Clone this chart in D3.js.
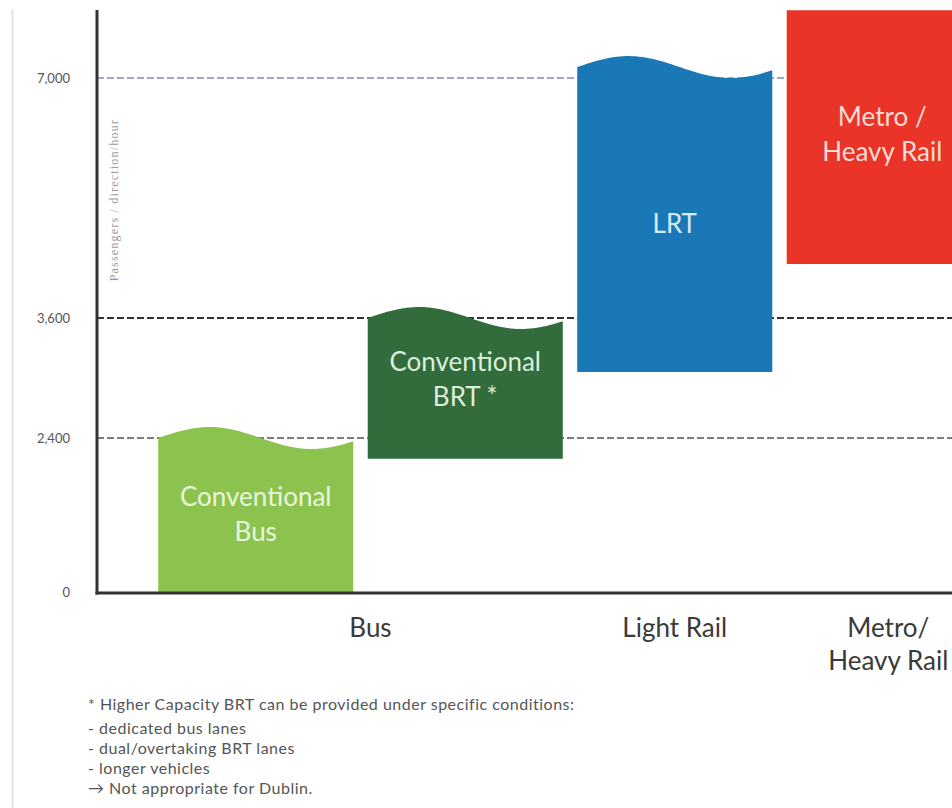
<!DOCTYPE html>
<html>
<head>
<meta charset="utf-8">
<script src="https://cdn.jsdelivr.net/npm/d3@7/dist/d3.min.js"></script>
<style>
  html, body { margin: 0; padding: 0; background: #ffffff; }
  svg { display: block; }
</style>
</head>
<body>
<svg id="chart" width="952" height="808"></svg>
<script>
// ---------- data ----------
const barNames   = ["Conventional Bus", "Conventional BRT", "LRT", "Metro / Heavy Rail"];
const barLabels  = [["Conventional", "Bus"], ["Conventional", "BRT *"], ["LRT"], ["Metro /", "Heavy Rail"]];
const barLow     = [0, 2075, 3060, 4365];          // passengers/direction/hour
const barHigh    = [2400, 3600, 7155, 7960];
const barWavy    = [true, true, true, false];
const groupNames = ["Bus", "Light Rail", "Metro/\nHeavy Rail"];
const groupOfBar = [0, 0, 1, 2];
const tickValues = [0, 2400, 3600, 7000];
const axisTitle  = "Passengers / direction/hour";
const footnote   = [
  "* Higher Capacity BRT can be provided under specific conditions:",
  "- dedicated bus lanes",
  "- dual/overtaking BRT lanes",
  "- longer vehicles",
  "\u2192 Not appropriate for Dublin."
];

// ---------- styles ----------
const barColors   = ["#8cc34f", "#326b3c", "#1b78b7", "#e93427"];
const labelColors = ["#eaf6dc", "#dcefdc", "#d8ecf8", "#fadcd6"];
const labelDy     = [8, 0, 13, 6];
const groupDx     = [10, 0, 4];
const gridStyles  = {
  2400: { stroke: "#7c7c7c", width: 1.8 },
  3600: { stroke: "#333333", width: 2.2 },
  7000: { stroke: "#8a8aa6", width: 1.6 }
};
const FONT = "Lato, 'Open Sans', sans-serif";

const svg = d3.select("#chart");
const W = 952, H = 808;
const axisX = 97, baseY = 593;

// non-linear (piecewise) schematic y scale as in the original
const y = d3.scaleLinear()
  .domain([0, 2400, 3600, 7000])
  .range([592, 438, 318, 78]);

const x = d3.scaleBand()
  .domain(barNames)
  .range([151, 989])
  .paddingInner(0.069)
  .paddingOuter(0.0345);

// left page border
svg.append("line")
  .attr("x1", 12.5).attr("x2", 12.5).attr("y1", 10).attr("y2", H)
  .attr("stroke", "#e2e2e2").attr("stroke-width", 2);

// dashed reference lines
const grid = svg.append("g");
tickValues.filter(v => v > 0).forEach(v => {
  grid.append("line")
    .attr("x1", axisX).attr("x2", W)
    .attr("y1", y(v)).attr("y2", y(v))
    .attr("stroke", gridStyles[v].stroke)
    .attr("stroke-width", gridStyles[v].width)
    .attr("stroke-dasharray", "7,3");
});

// bars with wavy tops
const N = 60;
const ts = d3.range(N + 1).map(i => i / N);
const waveAmp = 11;
barNames.forEach((name, i) => {
  const x0 = x(name), bw = x.bandwidth();
  const area = d3.area()
    .x(t => x0 + t * bw)
    .y0(y(barLow[i]))
    .y1(t => y(barHigh[i]) - (barWavy[i] ? waveAmp * Math.sin(2 * Math.PI * t / 1.05) : 0))
    .curve(d3.curveLinear);
  svg.append("path")
    .attr("d", area(ts))
    .attr("fill", barColors[i]);
});

// bar labels
const labelG = svg.append("g")
  .attr("font-family", FONT)
  .attr("font-size", 26)
  .attr("text-anchor", "middle");
barNames.forEach((name, i) => {
  const cx = x(name) + x.bandwidth() / 2;
  const lines = barLabels[i];
  const lh = 35;
  let cy;
  if (i === 1) cy = y(barHigh[i]) + 70;
  else cy = (y(barLow[i]) + y(barHigh[i])) / 2 + labelDy[i];
  const first = cy - (lines.length - 1) * lh / 2;
  lines.forEach((ln, k) => {
    labelG.append("text")
      .attr("x", cx - (i === 3 ? 2 : 0))
      .attr("y", first + k * lh)
      .attr("fill", labelColors[i])
      .text(ln);
  });
});

// y axis (labels only)
const yAxis = d3.axisLeft(y)
  .tickValues(tickValues)
  .tickSize(0)
  .tickPadding(27)
  .tickFormat(d3.format(","));
const yg = svg.append("g")
  .attr("transform", `translate(${axisX},0)`)
  .call(yAxis);
yg.select(".domain").remove();
yg.selectAll("text")
  .attr("font-family", FONT)
  .attr("font-size", 13)
  .attr("fill", "#555");

// axis lines
svg.append("line")
  .attr("x1", axisX).attr("x2", axisX).attr("y1", 10).attr("y2", baseY + 1.5)
  .attr("stroke", "#333").attr("stroke-width", 3);
svg.append("line")
  .attr("x1", axisX - 1.5).attr("x2", W).attr("y1", baseY).attr("y2", baseY)
  .attr("stroke", "#333").attr("stroke-width", 3);

// axis title
svg.append("text")
  .attr("transform", `translate(118, ${y(5270)}) rotate(-90)`)
  .attr("text-anchor", "middle")
  .attr("font-family", "'Liberation Serif', 'DejaVu Serif', serif")
  .attr("font-size", 12)
  .attr("letter-spacing", 1.2)
  .attr("fill", "#9a9a9a")
  .text(axisTitle);

// group (category) labels
const groupG = svg.append("g")
  .attr("font-family", FONT)
  .attr("font-size", 26)
  .attr("fill", "#3a3a3a")
  .attr("text-anchor", "middle");
groupNames.forEach((g, gi) => {
  const members = barNames.filter((n, i) => groupOfBar[i] === gi);
  const cx = d3.mean(members, n => x(n) + x.bandwidth() / 2);
  g.split("\n").forEach((ln, k) => {
    groupG.append("text")
      .attr("x", cx + groupDx[gi])
      .attr("y", baseY + 44 + k * 33)
      .text(ln);
  });
});

// footnote
const fg = svg.append("g")
  .attr("font-family", FONT)
  .attr("font-size", 16)
  .attr("letter-spacing", 0.5)
  .attr("fill", "#555");
footnote.forEach((ln, k) => {
  fg.append("text")
    .attr("x", 88)
    .attr("y", 710 + (k === 0 ? 0 : 4) + k * 20)
    .text(ln);
});
</script>
</body>
</html>
